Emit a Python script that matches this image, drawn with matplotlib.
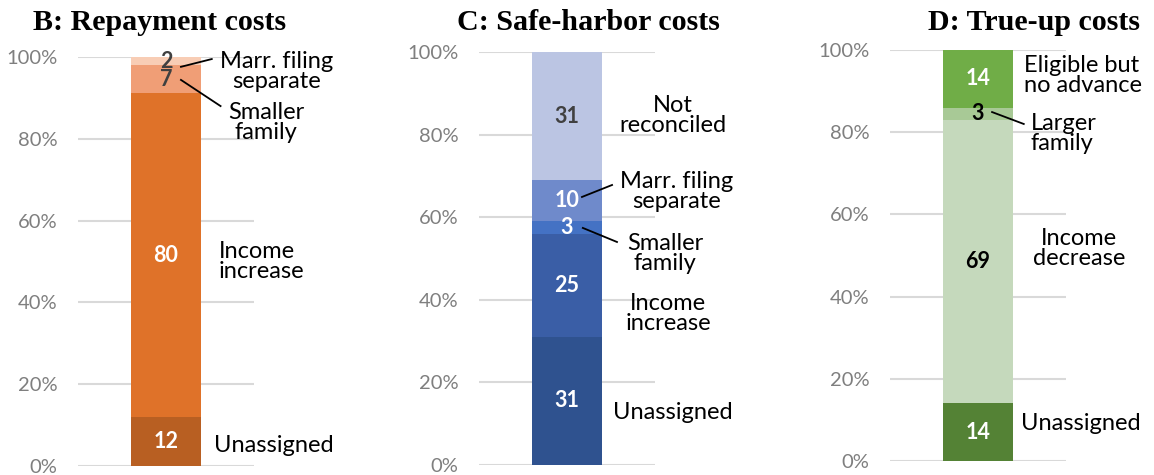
import matplotlib.pyplot as plt
from matplotlib.ticker import PercentFormatter

# segment values, bottom to top
repay_labels = ["Unassigned", "Income\nincrease", "Smaller\nfamily", "Marr. filing\nseparate"]
repay_values = [12, 80, 7, 2]
repay_colors = ["#B85F22", "#DF7229", "#F09E76", "#F8CDB5"]

safe_labels = ["Unassigned", "Income\nincrease", "Smaller\nfamily", "Marr. filing\nseparate", "Not\nreconciled"]
safe_values = [31, 25, 3, 10, 31]
safe_colors = ["#2F528F", "#3A5EA6", "#4472C4", "#6F8ACB", "#BBC5E3"]

trueup_labels = ["Unassigned", "Income\ndecrease", "Larger\nfamily", "Eligible but\nno advance"]
trueup_values = [14, 69, 3, 14]
trueup_colors = ["#548235", "#C5D9BC", "#A8C996", "#70AD47"]

titles = ["B: Repayment costs", "C: Safe-harbor costs", "D: True-up costs"]
title_x = [160, 588, 1034]

# number colours (white on dark segments)
repay_num = ["white", "white", "#404040", "#404040"]
safe_num = ["white", "white", "white", "white", "#404040"]
trueup_num = ["white", "black", "black", "white"]

# where each category label goes: (x, y, ha), and optional leader line
repay_text = [(0.27, 5.1, "left"), (0.30, 49.9, "left"), (0.57, 83.9, "center"), (0.63, 96.5, "center")]
repay_lead = [None, None, ((0.085, 94.4), (0.31, 88.0)), ((0.085, 97.6), (0.26, 99.5))]

safe_text = [(0.60, 12.8, "center"), (0.574, 36.7, "center"), (0.557, 51.3, "center"),
             (0.625, 66.3, "center"), (0.60, 84.6, "center")]
safe_lead = [None, None, ((0.09, 57.4), (0.284, 54.0)), ((0.085, 64.9), (0.256, 67.8)), None]

trueup_text = [(0.245, 9.2, "left"), (0.575, 51.7, "center"), (0.30, 79.6, "left"), (0.26, 93.7, "left")]
trueup_lead = [None, None, ((0.08, 84.9), (0.26, 82.0)), None]

panels = [
    (repay_labels, repay_values, repay_colors, repay_num, repay_text, repay_lead, [78, 57, 466]),
    (safe_labels, safe_values, safe_colors, safe_num, safe_text, safe_lead, [479, 52, 465]),
    (trueup_labels, trueup_values, trueup_colors, trueup_num, trueup_text, trueup_lead, [890, 50, 461]),
]

W, H = 1154, 475
fig = plt.figure(figsize=(W / 100, H / 100), dpi=100)
label_font = "Lato"

for (labels, values, colors, numc, txt, lead, (px, top, bot)), title, tx0 in zip(panels, titles, title_x):
    ax = fig.add_axes([px / W, 1 - bot / H, 176 / W, (bot - top) / H])
    total = sum(values)
    bottom = 0
    for lab, v, c, nc, (tx, ty, ha), ld in zip(labels, values, colors, numc, txt, lead):
        share = v / total * 100
        ax.bar(0, share, bottom=bottom, width=0.4, color=c, zorder=2)
        ax.text(0, bottom + share / 2, str(v), ha="center", va="center", color=nc,
                fontsize=15.5, fontweight="bold", family=label_font, zorder=3)
        ax.text(tx, ty, lab, ha=ha, va="center", fontsize=17, family=label_font,
                linespacing=0.95, clip_on=False, zorder=3)
        if ld is not None:
            (x0, y0), (x1, y1) = ld
            ax.plot([x0, x1], [y0, y1], color="black", lw=1.3, clip_on=False, zorder=4)
        bottom += share

    ax.set_xlim(-0.5, 0.5)
    ax.set_ylim(0, 100)
    ax.set_yticks(range(0, 101, 20))
    ax.yaxis.set_major_formatter(PercentFormatter(decimals=0))
    ax.set_xticks([])
    ax.grid(axis="y", color="#D9D9D9", lw=1.5, zorder=0)
    ax.tick_params(axis="y", length=0, pad=15, labelsize=14.5, labelcolor="#7F7F7F")
    for lbl in ax.get_yticklabels():
        lbl.set_family(label_font)
    for s in ax.spines.values():
        s.set_visible(False)
    fig.text(tx0 / W, 1 - 30 / H, title, ha="center", va="baseline",
             fontsize=21.6, fontweight="bold", family="Liberation Serif")

fig.savefig("out.png", dpi=100)
